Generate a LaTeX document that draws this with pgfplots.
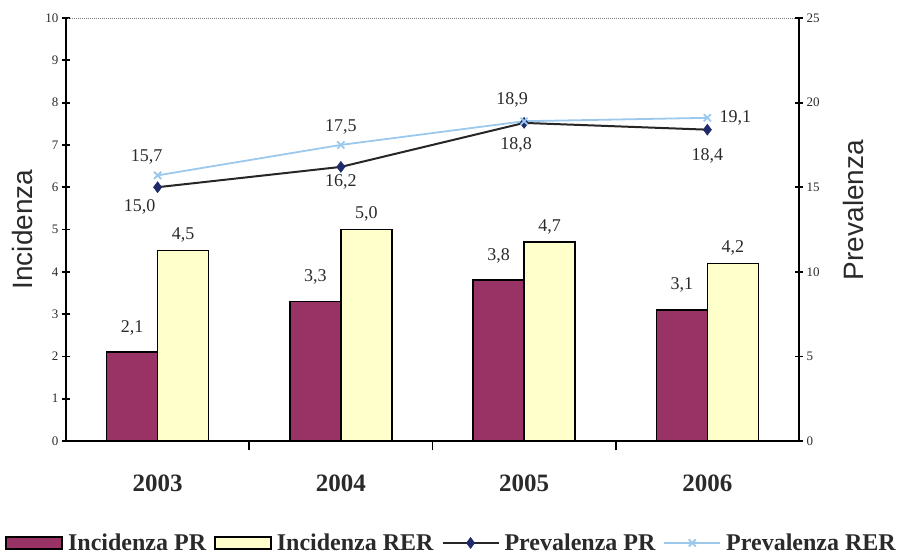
\documentclass[border=0pt]{standalone}
\usepackage{fontspec}
\setmainfont{Liberation Serif}
\newfontfamily\arial{Liberation Sans}
\usepackage{pgfplots}
\pgfplotsset{compat=1.18}
\usepackage{pgfplotstable}

\definecolor{plum}{HTML}{993366}
\definecolor{ivory}{HTML}{FFFFCC}
\definecolor{navyb}{HTML}{1F2A6B}
\definecolor{lblue}{HTML}{9CC8EC}
\definecolor{lbl}{HTML}{2A2A2A}

\pgfplotstableread{
x pr rer
0 2.1 4.5
1 3.3 5.0
2 3.8 4.7
3 3.1 4.2
}\incid

\pgfplotstableread{
x y lbl dx dy
0 15.0 15,0 -18 -20
1 16.2 16,2 0 -15
2 18.8 18,8 -8 -22
3 18.4 18,4 0 -26
}\prevpr

\pgfplotstableread{
x y lbl dx dy
0 15.7 15,7 -11 18
1 17.5 17,5 0 18
2 18.9 18,9 -12 21
3 19.1 19,1 28 0
}\prevrer

\pgfplotsset{
  mylinelegend/.style={legend image code/.code={\draw[mark repeat=2,mark phase=2,##1] plot coordinates {(0pt,0pt) (28pt,0pt) (56pt,0pt)};}},
  mybarlegend/.style={legend image code/.code={\draw[##1] (0pt,-6pt) rectangle (56pt,6pt);}},
}

\begin{document}
\begin{tikzpicture}
\begin{axis}[
  at={(0pt,0pt)}, anchor=south west,
  scale only axis, width=733pt, height=423pt,
  xmin=-0.5, xmax=3.5, ymin=0, ymax=10,
  axis y line*=left, axis x line*=bottom,
  axis line style={draw=none},
  xtick={0,1,2,3}, xticklabels={2003,2004,2005,2006},
  x tick label style={font=\bfseries\fontsize{25}{30}\selectfont, yshift=-22pt, text=lbl},
  major x tick style={draw=none},
  minor xtick={0.5,1.5,2.5},
  minor x tick style={draw=black, line width=1.8pt},
  minor tick length=9pt,
  ytick={0,1,...,10},
  y tick label style={font=\fontsize{13}{15}\selectfont, text=lbl},
  major tick length=8pt, tick align=center,
  tick style={black, line width=1.8pt},
  /pgf/number format/assume math mode=true,
  ylabel={\arial Incidenza},
  ylabel style={font=\fontsize{28}{32}\selectfont, at={(axis description cs:-0.06,0.5)}, anchor=center, text=lbl},
  ybar=0pt, bar width=51pt,
  nodes near coords={\pgfmathprintnumber[use comma,fixed,fixed zerofill,precision=1]{\pgfplotspointmeta}},
  every node near coord/.append style={font=\fontsize{18}{20}\selectfont, text=lbl, anchor=south},
  clip=false,
]
\addplot[fill=plum, draw=black, line width=1.6pt, every node near coord/.append style={yshift=13pt}] table[x=x,y=pr]{\incid};
\addplot[fill=ivory, draw=black, line width=1.6pt, every node near coord/.append style={yshift=4pt}] table[x=x,y=rer]{\incid};
\draw[gray, densely dotted, line width=1pt] (rel axis cs:0,1) -- (rel axis cs:1,1);
\draw[black, line width=2.6pt] (rel axis cs:0,1) -- (rel axis cs:0,0) -- (rel axis cs:1,0) -- (rel axis cs:1,1);
\end{axis}

\begin{axis}[
  at={(0pt,0pt)}, anchor=south west,
  scale only axis, width=733pt, height=423pt,
  xmin=-0.5, xmax=3.5, ymin=0, ymax=25,
  axis y line*=right, axis x line=none,
  axis line style={draw=none},
  ytick={0,5,...,25},
  y tick label style={font=\fontsize{13}{15}\selectfont, text=lbl},
  major tick length=8pt, tick align=center,
  tick style={black, line width=1.8pt},
  /pgf/number format/assume math mode=true,
  ylabel={\arial Prevalenza},
  ylabel style={font=\fontsize{28}{32}\selectfont, at={(axis description cs:1.074,0.546)}, anchor=center, text=lbl},
  legend columns=4,
  legend style={at={(axis description cs:0.528,-0.241)}, anchor=center, draw=none, fill=none,
    font=\bfseries\fontsize{24}{28}\selectfont, text=lbl, inner sep=0pt,
    nodes={inner xsep=5pt, inner ysep=2pt},
    /tikz/every even column/.append style={column sep=3pt}},
  legend cell align=left,
]
\addlegendimage{mybarlegend, fill=plum, draw=black, line width=1.8pt}
\addlegendentry{Incidenza PR}
\addlegendimage{mybarlegend, fill=ivory, draw=black, line width=1.8pt}
\addlegendentry{Incidenza RER}
\addplot[mylinelegend, color=black!85, line width=2pt, mark=diamond*, mark size=5.5pt,
  mark options={fill=navyb, draw=navyb, line width=0.5pt},
  nodes near coords, point meta=explicit symbolic,
  visualization depends on={\thisrow{dx}\as\dx},
  visualization depends on={\thisrow{dy}\as\dy},
  every node near coord/.append style={anchor=center, xshift=\dx pt, yshift=\dy pt, font=\fontsize{18}{20}\selectfont, text=lbl}]
  table[x=x,y=y,meta=lbl]{\prevpr};
\addlegendentry{Prevalenza PR}
\addplot[mylinelegend, color=lblue, line width=1.8pt, mark=x, mark size=5pt,
  mark options={draw=lblue, line width=1.8pt},
  nodes near coords, point meta=explicit symbolic,
  visualization depends on={\thisrow{dx}\as\dx},
  visualization depends on={\thisrow{dy}\as\dy},
  every node near coord/.append style={anchor=center, xshift=\dx pt, yshift=\dy pt, font=\fontsize{18}{20}\selectfont, text=lbl}]
  table[x=x,y=y,meta=lbl]{\prevrer};
\addlegendentry{Prevalenza RER}
\end{axis}
\pgfresetboundingbox
\path (-66pt,-117pt) rectangle (841pt,441pt);
\end{tikzpicture}
\end{document}
